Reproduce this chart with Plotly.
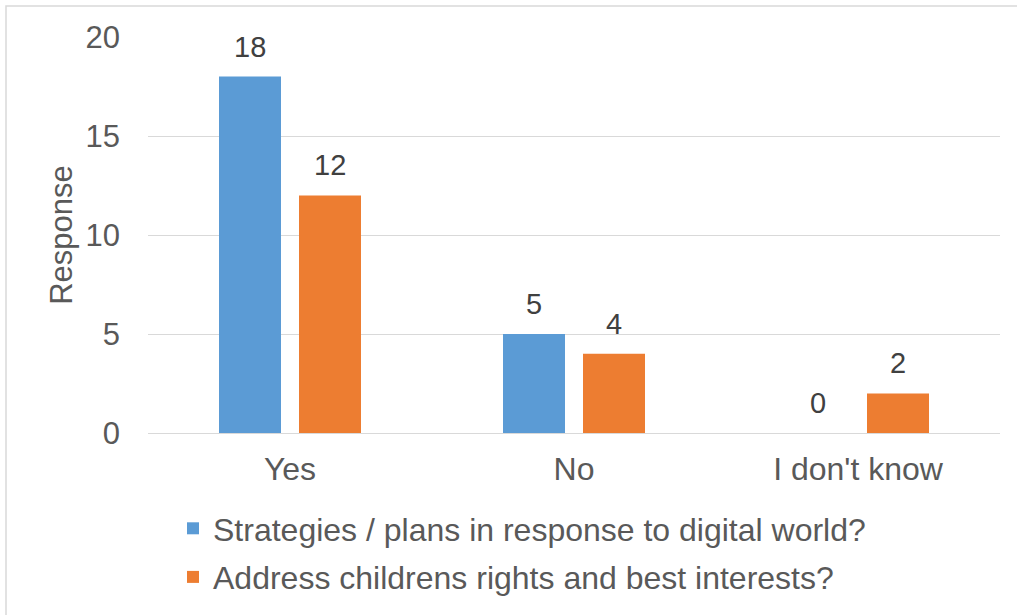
import plotly.graph_objects as go

# Survey answers per category
categories = ["Yes", "No", "I don't know"]
strategies = [18, 5, 0]
rights = [12, 4, 2]
series_names = [
    "Strategies / plans in response to digital world?",
    "Address childrens rights and best interests?",
]
y_ticks = [0, 5, 10, 15, 20]

BLUE = "#5B9BD5"
ORANGE = "#ED7D31"
FONT = "Liberation Sans, Arial, sans-serif"

fig = go.Figure()
series = [
    (series_names[0], strategies, BLUE, "a", -40),
    (series_names[1], rights, ORANGE, "b", 40),
]
for name, vals, color, grp, _ in series:
    fig.add_trace(go.Bar(
        x=categories, y=vals, name=name, legendgroup=grp,
        marker=dict(color=color, line=dict(width=0)),
    ))

# Value labels sit above each bar
annotations = []
for _, vals, _, _, dx in series:
    for cat, v in zip(categories, vals):
        annotations.append(dict(
            x=cat, y=v, xref="x", yref="y", text=str(v), showarrow=False,
            xshift=dx, yanchor="bottom", yshift=12,
            font=dict(size=29, color="#404040", family=FONT),
        ))

W, H = 1017, 615
L, R, T, B = 148, 17, 37, 182
pw, ph = W - L - R, H - T - B

fig.update_layout(
    width=W, height=H,
    margin=dict(l=L, r=R, t=T, b=B, pad=0, autoexpand=False),
    paper_bgcolor="white", plot_bgcolor="white",
    font=dict(family=FONT, size=31, color="#595959"),
    barmode="group", bargap=0.4366, bargroupgap=0.225,
    showlegend=True,
    annotations=annotations,
    legend=dict(
        orientation="v", x=(173 - L) / pw, xanchor="left",
        y=-(501 - (H - B)) / ph, yanchor="top",
        font=dict(size=32, color="#595959", family=FONT),
        tracegroupgap=4, bgcolor="rgba(0,0,0,0)",
    ),
    xaxis=dict(showgrid=False, showline=True, linecolor="#D9D9D9", linewidth=1,
               ticks="", ticklabelstandoff=8, tickfont=dict(size=32)),
    yaxis=dict(range=[0, 20], tickvals=y_ticks, showgrid=True, gridcolor="#D9D9D9",
               gridwidth=1, zeroline=False, ticks="", ticklabelstandoff=27,
               tickfont=dict(size=31),
               title=dict(text="Response", font=dict(size=31, color="#595959"), standoff=3)),
    shapes=[dict(type="rect", xref="paper", yref="paper",
                 x0=(6 - L) / pw, x1=(W + 10 - L) / pw,
                 y0=-(H + 10 - (H - B)) / ph, y1=1 + (T - 6) / ph,
                 line=dict(color="#D9D9D9", width=1.5), fillcolor="rgba(0,0,0,0)",
                 layer="below")],
)

fig.write_html("out.html")
